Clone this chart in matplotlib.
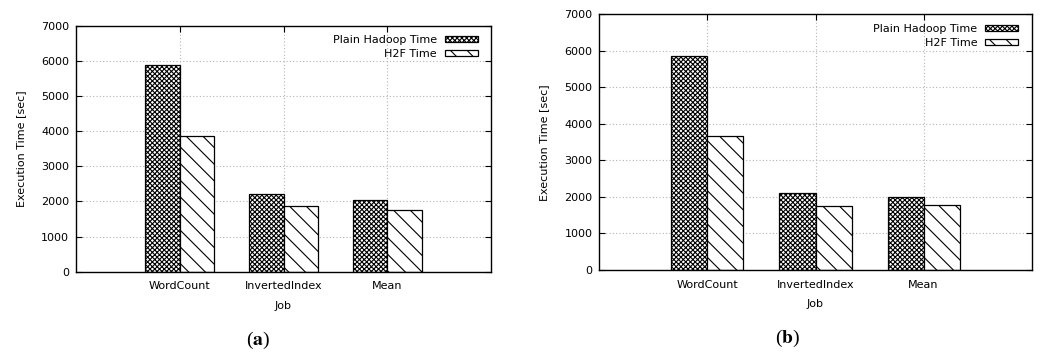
import numpy as np
import matplotlib
matplotlib.use("Agg")
import matplotlib.pyplot as plt

# data
jobs = ["WordCount", "InvertedIndex", "Mean"]
plain_a = [5870, 2200, 2030]
h2f_a = [3860, 1860, 1750]
plain_b = [5870, 2120, 2010]
h2f_b = [3660, 1760, 1790]
yticks = [0, 1000, 2000, 3000, 4000, 5000, 6000, 7000]

plt.rcParams['font.family'] = 'DejaVu Sans'
plt.rcParams['font.size'] = 8
plt.rcParams['hatch.linewidth'] = 0.8
plt.rcParams['mathtext.fontset'] = 'stix'

fig = plt.figure(figsize=(10.4, 3.52), dpi=100)
ax_a = fig.add_axes([0.0731, 0.228, 0.399, 0.699])
ax_b = fig.add_axes([0.5763, 0.233, 0.4157, 0.726])


def draw_panel(ax, plain, h2f):
    x = np.arange(len(jobs))
    w = 1 / 3
    ax.bar(x - w / 2, plain, w, color='white', edgecolor='black',
           hatch='xxxxxxx', linewidth=0.9, label='Plain Hadoop Time')
    ax.bar(x + w / 2, h2f, w, color='white', edgecolor='black',
           hatch='\\\\', linewidth=0.9, label='H2F Time')
    ax.set_xlim(-1, 3)
    ax.set_ylim(0, 7000)
    ax.set_xticks(x)
    ax.set_xticklabels(jobs)
    ax.set_yticks(yticks)
    ax.set_axisbelow(True)
    ax.grid(True, color='#b5b5b5', linestyle=(0, (1, 2)), linewidth=0.8)
    ax.tick_params(direction='in', length=4, top=True, right=True,
                   width=0.8, labelsize=8)
    ax.tick_params(axis='y', pad=5)
    ax.tick_params(axis='x', pad=7)
    for s in ax.spines.values():
        s.set_linewidth(1.0)
    ax.set_xlabel('Job', fontsize=8, labelpad=7)
    ax.set_ylabel('Execution Time [sec]', fontsize=8, labelpad=11)
    ax.legend(loc='upper right', bbox_to_anchor=(0.982, 0.985),
              frameon=False, markerfirst=False, borderpad=0,
              handlelength=3.0, handleheight=0.45, handletextpad=0.7,
              labelspacing=0.35, fontsize=8)


draw_panel(ax_a, plain_a, h2f_a)
draw_panel(ax_b, plain_b, h2f_b)

fig.text(258 / 1040, 1 - 340 / 352, r'($\mathbf{a}$)', ha='center', va='center',
         fontsize=14, family='Liberation Serif')
fig.text(788 / 1040, 1 - 338 / 352, r'($\mathbf{b}$)', ha='center', va='center',
         fontsize=14, family='Liberation Serif')

fig.savefig('out.png', dpi=100)
